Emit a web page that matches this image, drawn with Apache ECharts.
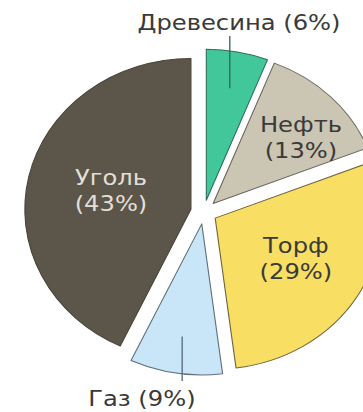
<!DOCTYPE html>
<html><head><meta charset="utf-8">
<script src="https://cdn.jsdelivr.net/npm/echarts@6/dist/echarts.min.js"></script>
<style>
html,body{margin:0;padding:0;background:#fff;overflow:hidden;}
#wrap{width:363px;height:412px;overflow:hidden;}
#c{width:330px;height:412px;transform:scaleX(1.1);transform-origin:0 0;}
</style></head><body><div id="wrap"><div id="c"></div></div>
<script>
const categories = ['Древесина', 'Нефть', 'Торф', 'Газ', 'Уголь'];
const shares = [6, 13, 29, 9, 43];
const colors = ['#41c79a', '#cbc5b3', '#f8de62', '#c8e6f8', '#5c5549'];
const borderColors = ['#2f6f5a', '#6c675c', '#6f6440', '#5f6f7c', '#4a443a'];
const labelColors = ['#3a3a3a', '#3a3a3a', '#3a3a3a', '#3a3a3a', '#e2dfd8'];
const lineColors = ['#2e6a56', null, null, '#56687a', null];
const outsideLabel = [true, false, false, true, false];

const CX = 185.3, CY = 212, R = 151, OFF = 12, LINE_R = 114;
// label anchor positions (text placement only)
const labelPos = [[217.3, 22], [273.6, 137], [269, 258], [129, 398], [100.9, 190]];
const lineEnd = [36, null, null, 381, null];

const total = shares.reduce((a, b) => a + b, 0);
const mids = [];
let acc = 0;
shares.forEach(v => { mids.push((acc + v / 2) / total * 2 * Math.PI); acc += v; });

const font = {fontFamily: 'DejaVu Sans', fontSize: 22, lineHeight: 26};

const base = {
  type: 'pie',
  center: [CX, CY],
  radius: [0, R],
  startAngle: 90,
  clockwise: true,
  avoidLabelOverlap: false,
  silent: true,
  emphasis: {disabled: true}
};

const chart = echarts.init(document.getElementById('c'), null, {renderer: 'svg'});
chart.setOption({
  animation: false,
  backgroundColor: '#ffffff',
  series: [
    Object.assign({}, base, {
      z: 2,
      selectedMode: 'multiple',
      selectedOffset: OFF,
      label: {show: false},
      labelLine: {show: false},
      data: categories.map((name, i) => ({
        name: name, value: shares[i], selected: true,
        itemStyle: {color: colors[i], borderColor: borderColors[i], borderWidth: 1},
        select: {itemStyle: {color: colors[i], borderColor: borderColors[i], borderWidth: 1}}
      }))
    }),
    Object.assign({}, base, {
      z: 3,
      selectedMode: false,
      itemStyle: {color: 'rgba(0,0,0,0)', borderWidth: 0},
      label: Object.assign({show: true, position: 'outside'}, font),
      labelLine: {show: true, length: 20, length2: 0, lineStyle: {width: 1}},
      data: categories.map((name, i) => ({
        name: name, value: shares[i],
        label: {
          color: labelColors[i],
          formatter: outsideLabel[i] ? '{b} ({c}%)' : '{b}\n({c}%)'
        },
        labelLine: {show: outsideLabel[i], lineStyle: {color: lineColors[i] || '#555', width: 1.2}}
      })),
      labelLayout: function (p) {
        const i = p.dataIndex;
        const res = {x: labelPos[i][0], y: labelPos[i][1], align: 'center', verticalAlign: 'middle'};
        if (outsideLabel[i]) {
          const a = mids[i];
          const sx = CX + (OFF + LINE_R) * Math.sin(a);
          const sy = CY - (OFF + LINE_R) * Math.cos(a);
          res.labelLinePoints = [[sx, sy], [sx, lineEnd[i]], [sx, lineEnd[i]]];
        }
        return res;
      }
    })
  ]
});
</script></body></html>
